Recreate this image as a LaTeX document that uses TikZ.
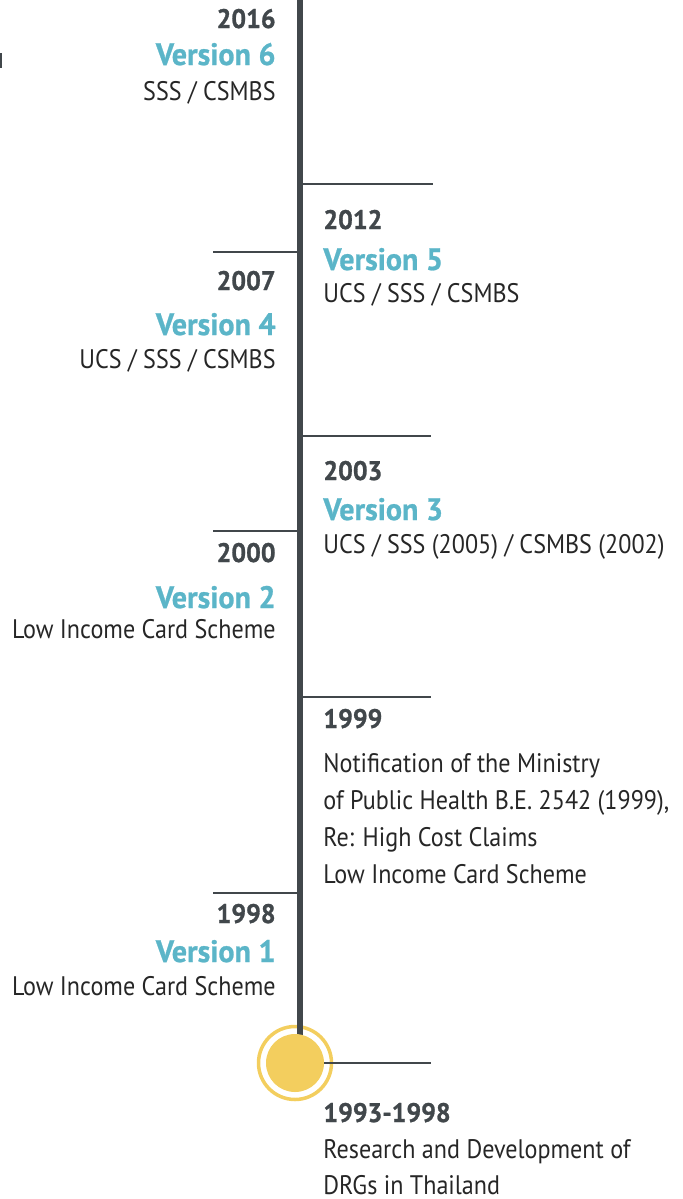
\documentclass[tikz,border=0pt]{standalone}
\usepackage{fontspec}
\setmainfont[FakeStretch=0.9,BoldFeatures={FakeStretch=0.97}]{PT Sans}
\definecolor{slate}{HTML}{41474B}
\definecolor{verblue}{HTML}{5BB5C8}
\definecolor{sun}{HTML}{F3CE5E}
\definecolor{ink}{HTML}{262626}
\tikzstyle{year}=[inner sep=0pt,text=slate,font=\bfseries\addfontfeature{FakeBold=1}\fontsize{13.4}{15}\selectfont]
\tikzstyle{version}=[inner sep=0pt,text=verblue,font=\bfseries\addfontfeature{FakeBold=0.8}\fontsize{15.5}{18}\selectfont]
\tikzstyle{scheme}=[inner sep=0pt,text=ink,font=\fontsize{13.4}{16}\selectfont]
\tikzstyle{lft}=[anchor=base east]
\tikzstyle{rgt}=[anchor=base west]
\tikzstyle{spine}=[draw=slate,line width=3pt]
\tikzstyle{tick}=[draw=slate,line width=1pt]
\tikzstyle{ring}=[circle,draw=sun,line width=1.75pt,minimum size=36.5pt,inner sep=0pt]
\tikzstyle{dot}=[circle,fill=sun,minimum size=29pt,inner sep=0pt]

\begin{document}
\begin{tikzpicture}[x=0.5pt,y=-0.5pt]
    \useasboundingbox (0,0) rectangle (682,1199);
    % spine and the start marker
    \coordinate (top) at (299.5,0);
    \node[ring] (ring) at (295,1063) {};
    \draw[spine] (top) -- (top |- ring.center);
    % ticks, one per entry
    \coordinate (t12) at (433,184);
    \coordinate (t07) at (213,252);
    \coordinate (t03) at (431,436);
    \coordinate (t00) at (213,531);
    \coordinate (t99) at (431,697);
    \coordinate (t98) at (213,893);
    \coordinate (t93) at (431,1063);
    \draw[tick] (top |- t12) -- (t12);
    \draw[tick] (t07) -- (top |- t07);
    \draw[tick] (top |- t03) -- (t03);
    \draw[tick] (t00) -- (top |- t00);
    \draw[tick] (top |- t99) -- (t99);
    \draw[tick] (t98) -- (top |- t98);
    \draw[tick] (ring.center) -- (t93);
    \node[dot] (dot) at (ring.center) {};
    % left of the spine
    \node[year,lft] (y16) at (276,28) {2016};
    \node[version,lft] (v6) at (276,65) {Version 6};
    \node[scheme,lft] (s6) at (276,100) {SSS / CSMBS};
    \node[year,lft] (y07) at (276,290) {2007};
    \node[version,lft] (v4) at (276,335) {Version 4};
    \node[scheme,lft] (s4) at (276,368) {UCS / SSS / CSMBS};
    \node[year,lft] (y00) at (276,562) {2000};
    \node[version,lft] (v2) at (276,608) {Version 2};
    \node[scheme,lft] (s2) at (276,638) {Low Income Card Scheme};
    \node[year,lft] (y98) at (276,923) {1998};
    \node[version,lft] (v1) at (276,962) {Version 1};
    \node[scheme,lft] (s1) at (276,995) {Low Income Card Scheme};
    % right of the spine
    \node[year,rgt] (y12) at (323,229) {2012};
    \node[version,rgt] (v5) at (323,270) {Version 5};
    \node[scheme,rgt] (s5) at (323,302) {UCS / SSS / CSMBS};
    \node[year,rgt] (y03) at (323,480) {2003};
    \node[version,rgt] (v3) at (323,520) {Version 3};
    \node[scheme,rgt] (s3) at (323,553) {UCS / SSS (2005) / CSMBS (2002)};
    \node[year,rgt] (y99) at (323,728) {1999};
    \node[scheme,rgt] (n1) at (323,772) {Notification of the Ministry};
    \node[scheme,rgt] (n2) at (323,809) {of Public Health B.E. 2542 (1999),};
    \node[scheme,rgt] (n3) at (323,846) {Re: High Cost Claims};
    \node[scheme,rgt] (n4) at (323,883) {Low Income Card Scheme};
    \node[year,rgt] (y93) at (323,1122) {1993-1998};
    \node[scheme,rgt] (r1) at (323,1158) {Research and Development of};
    \node[scheme,rgt] (r2) at (323,1194) {DRGs in Thailand};
    % stray edge mark
    \coordinate (m1) at (1,53);
    \coordinate (m2) at (1,68);
    \draw[draw=slate,line width=0.75pt] (m1) -- (m2);
\end{tikzpicture}
\end{document}
